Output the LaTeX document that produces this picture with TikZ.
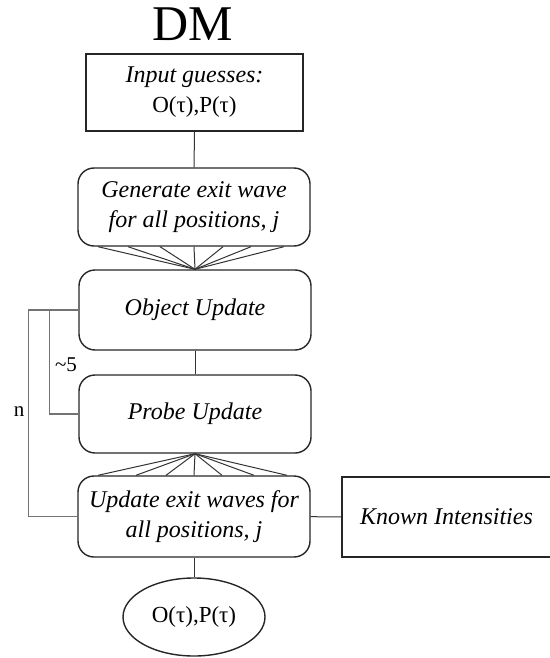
\documentclass[tikz,border=0pt]{standalone}
\usepackage{fontspec}
\setmainfont{Liberation Serif}
\usetikzlibrary{shapes.geometric,calc}
\tikzset{
  boxline/.style={draw=black!85, line width=1.4pt},
  sqbox/.style={boxline, rectangle, align=center, font=\fontsize{23}{30}\selectfont, inner sep=0pt},
  rbox/.style={boxline, rectangle, rounded corners=16pt, align=center, font=\fontsize{24}{30}\selectfont\itshape, inner sep=0pt, minimum width=232pt},
  wire/.style={draw=black!80, line width=1pt},
  loopline/.style={draw=black!55, line width=1.2pt},
  lbl/.style={font=\fontsize{21}{24}\selectfont, inner sep=0pt}
}
\begin{document}
\begin{tikzpicture}[x=1pt,y=-1pt]
\useasboundingbox (0,0) rectangle (549,658);
\node[font=\fontsize{50}{54}\selectfont] (title) at (193,24) {DM};
\node[sqbox, minimum width=217pt, minimum height=77pt] (input) at (194.5,92.5) {{\fontsize{24}{30}\selectfont\itshape Input guesses:}\\O(τ),P(τ)};
\node[rbox, minimum height=78pt] (gen) at (194,207) {Generate exit wave\\for all positions, \textit{j}};
\node[rbox, minimum height=80pt] (obj) at (195,310) {Object Update};
\node[rbox, minimum height=78pt] (probe) at (195,414) {Probe Update};
\node[rbox, minimum height=81pt] (upd) at (194,516.5) {Update exit waves for\\all positions, \textit{j}};
\node[sqbox, minimum width=209pt, minimum height=80pt, font=\fontsize{24}{30}\selectfont\itshape] (known) at (446.5,517) {Known Intensities};
\node[boxline, ellipse, minimum width=142pt, minimum height=78pt, inner sep=0pt, font=\fontsize{23}{30}\selectfont] (out) at (194,617) {O(τ),P(τ)};
\draw[wire] (input) -- (gen);
\foreach \dx in {-96,-66,-34,0,29,57,90} \draw[wire] ([xshift=\dx pt]gen.south) -- (obj.north);
\draw[wire] (obj) -- (probe);
\foreach \dx in {-96,-58,-28,0,28,60,93} \draw[wire] (probe.south) -- ([xshift=\dx pt]upd.north);
\draw[wire] (upd) -- (known);
\draw[wire] (upd) -- (out);
\draw[loopline] (obj.west) -- ++(-50,0) coordinate (ncorner) |- (upd.west);
\draw[loopline] ([xshift=-29pt]obj.west) coordinate (fcorner) |- (probe.west);
\node[lbl] (five) at (66,365) {\~{}5};
\node[lbl] (nlab) at (19,412) {n};
\end{tikzpicture}
\end{document}
